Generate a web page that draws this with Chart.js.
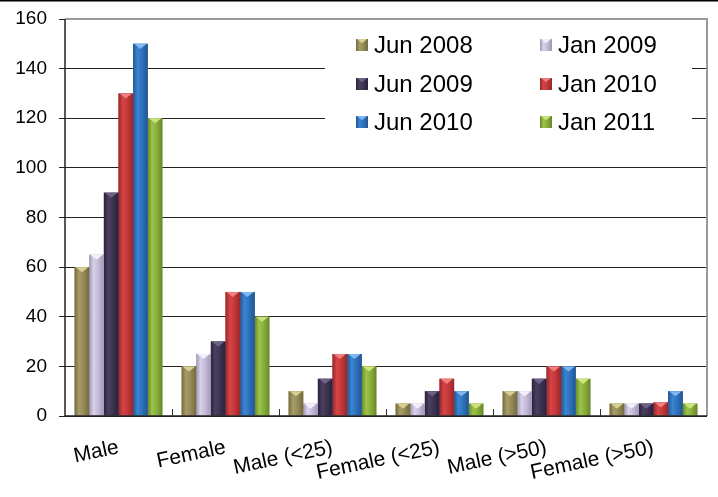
<!DOCTYPE html>
<html>

<head>
    <meta charset="utf-8">
    <title>Survey counts</title>
    <script type="text/javascript" src="https://cdn.jsdelivr.net/npm/chart.js@4.4.1/dist/chart.umd.min.js"></script>
    <style>
        body { margin: 0; background: #fff; }
    </style>
</head>

<body>
    <canvas id="chart" width="718" height="497"></canvas>
    <script>
        // categories and series
        const categories = ['Male', 'Female', 'Male (<25)', 'Female (<25)', 'Male (>50)', 'Female (>50)']
        const seriesNames = ['Jun 2008', 'Jan 2009', 'Jun 2009', 'Jan 2010', 'Jun 2010', 'Jan 2011']
        const jun2008 = [60, 20, 10, 5, 10, 5]
        const jan2009 = [65, 25, 5, 5, 10, 5]
        const jun2009 = [90, 30, 15, 10, 15, 5]
        const jan2010 = [130, 50, 25, 15, 20, 5.5]
        const jun2010 = [150, 50, 25, 10, 20, 10]
        const jan2011 = [120, 40, 20, 5, 15, 5]
        const yTicks = [0, 20, 40, 60, 80, 100, 120, 140, 160]

        const seriesValues = [jun2008, jan2009, jun2009, jan2010, jun2010, jan2011]
        // base, light centre, dark edge, top facet
        const palette = [
            ['#958b59', '#a79d68', '#736a40', '#d8d092'],
            ['#c4bcd8', '#d9d2ea', '#9f97b5', '#f4f0fb'],
            ['#3e3352', '#4b3f61', '#2a2139', '#6f6287'],
            ['#c6383a', '#d64446', '#97272a', '#f07f7f'],
            ['#2f72bd', '#3a85d2', '#22558f', '#7fb7ee'],
            ['#8ab03c', '#9cc449', '#67872a', '#cde37f']
        ]

        const FONT = 'Liberation Sans, Arial, sans-serif'

        const bevel = (ctx, left, right, top, bottom, c) => {
            const g = ctx.createLinearGradient(left, 0, right, 0)
            g.addColorStop(0, c[2])
            g.addColorStop(0.3, c[1])
            g.addColorStop(0.6, c[0])
            g.addColorStop(1, c[2])
            ctx.fillStyle = g
            ctx.fillRect(left, top, right - left, bottom - top)
            const w = right - left
            const h = Math.min(w * 0.35, bottom - top)
            ctx.fillStyle = c[3]
            ctx.beginPath()
            ctx.moveTo(left + 1, top)
            ctx.lineTo(right - 1, top)
            ctx.lineTo((left + right) / 2, top + h)
            ctx.closePath()
            ctx.fill()
        }

        const barLook = {
            id: 'barLook',
            afterDatasetDraw(chart, args) {
                const ctx = chart.ctx
                const c = palette[args.index]
                ctx.save()
                args.meta.data.forEach((bar) => {
                    const p = bar.getProps(['x', 'y', 'base', 'width'], true)
                    bevel(ctx, p.x - p.width / 2, p.x + p.width / 2, p.y, p.base, c)
                })
                ctx.restore()
            }
        }

        const frame = {
            id: 'frame',
            afterDraw(chart) {
                const ctx = chart.ctx
                const a = chart.chartArea
                const xs = chart.scales.x
                ctx.save()
                // top rule of the picture
                ctx.fillStyle = '#000'
                ctx.fillRect(0, 0, chart.width, 1.5)
                // grey top and right borders
                ctx.strokeStyle = '#9a9a9a'
                ctx.lineWidth = 2
                ctx.beginPath()
                ctx.moveTo(a.left, a.top)
                ctx.lineTo(a.right, a.top)
                ctx.lineTo(a.right, a.bottom)
                ctx.stroke()
                // inward ticks between categories
                ctx.strokeStyle = '#333'
                ctx.lineWidth = 1
                ctx.beginPath()
                const step = xs.width / categories.length
                for (let i = 1; i < categories.length; i++) {
                    const x = Math.round(xs.left + i * step) + 0.5
                    ctx.moveTo(x, a.bottom)
                    ctx.lineTo(x, a.bottom - 7)
                }
                ctx.stroke()
                // axes
                ctx.strokeStyle = '#222'
                ctx.lineWidth = 1.5
                ctx.beginPath()
                ctx.moveTo(a.left, a.top)
                ctx.lineTo(a.left, a.bottom)
                ctx.lineTo(a.right, a.bottom)
                ctx.stroke()

                // legend inside plot
                const bx = a.left + 260, by = a.top + 3
                ctx.fillStyle = '#fff'
                ctx.fillRect(bx, by, 367, 128)
                ctx.font = '24px ' + FONT
                ctx.textBaseline = 'middle'
                ctx.textAlign = 'left'
                const colX = [356, 540]
                const rowY = [45, 84, 122]
                chart.data.datasets.forEach((ds, i) => {
                    const cx = colX[i % 2], cy = rowY[Math.floor(i / 2)]
                    bevel(ctx, cx, cx + 12, cy - 6, cy + 6, palette[i])
                    ctx.fillStyle = '#000'
                    ctx.fillText(ds.label, cx + 18, cy + 1)
                })
                ctx.restore()
            }
        }

        const datasets = seriesNames.map((name, i) => ({
            label: name,
            data: seriesValues[i],
            backgroundColor: palette[i][0],
            borderWidth: 0,
            categoryPercentage: 0.82,
            barPercentage: 1.0
        }))

        new Chart(document.getElementById('chart'), {
            type: 'bar',
            data: { labels: categories, datasets },
            options: {
                responsive: false,
                animation: false,
                layout: { padding: { top: 19, right: 11, bottom: 0, left: 0 } },
                plugins: {
                    legend: { display: false },
                    tooltip: { enabled: false }
                },
                scales: {
                    x: {
                        grid: { display: false },
                        border: { display: false },
                        ticks: {
                            color: '#000',
                            font: { family: FONT, size: 21 },
                            autoSkip: false,
                            minRotation: 12,
                            maxRotation: 12,
                            padding: 11
                        },
                        afterFit: (s) => { s.height = 81 }
                    },
                    y: {
                        min: 0,
                        max: 160,
                        afterBuildTicks: (s) => { s.ticks = yTicks.map((v) => ({ value: v })) },
                        grid: { color: '#222', lineWidth: 1, tickLength: 6, tickColor: '#222' },
                        border: { display: false },
                        ticks: {
                            color: '#000',
                            font: { family: FONT, size: 19 },
                            padding: 12
                        },
                        afterFit: (s) => {
                            s.width = 65
                            s.paddingTop = 0
                            s.paddingBottom = 0
                        }
                    }
                }
            },
            plugins: [barLook, frame]
        })
    </script>
</body>

</html>
